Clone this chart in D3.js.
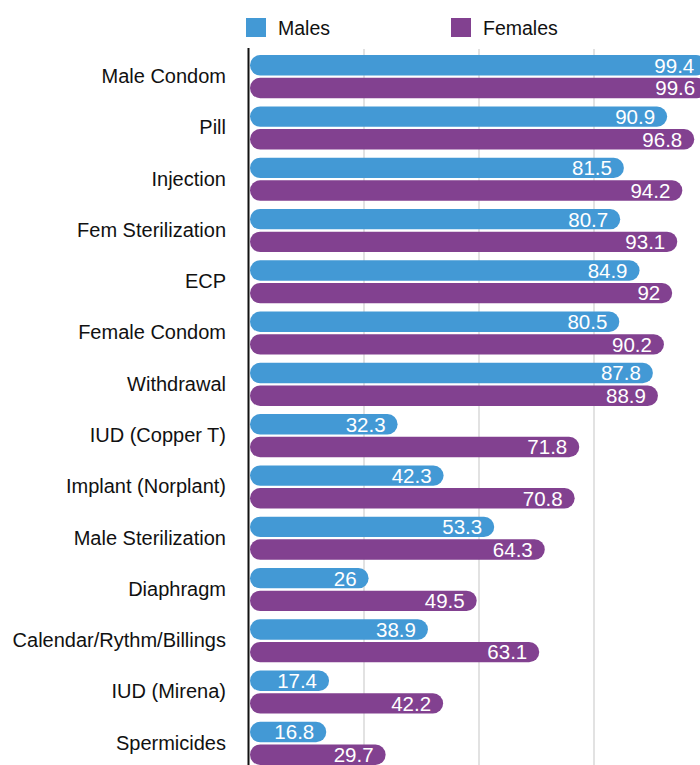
<!DOCTYPE html>
<html>
<head>
<meta charset="utf-8">
<script src="https://cdn.jsdelivr.net/npm/d3@7"></script>
<style>
  html, body { margin: 0; padding: 0; background: #fff; overflow: hidden; }
  svg { display: block; font-family: "Helvetica Neue", Helvetica, Arial, "Liberation Sans", sans-serif; }
</style>
</head>
<body>
<svg id="chart" width="700" height="765"></svg>
<script>
// Contraceptive method awareness (%), by sex
const categories = [
  "Male Condom", "Pill", "Injection", "Fem Sterilization", "ECP",
  "Female Condom", "Withdrawal", "IUD (Copper T)", "Implant (Norplant)",
  "Male Sterilization", "Diaphragm", "Calendar/Rythm/Billings",
  "IUD (Mirena)", "Spermicides"
];
const males   = [99.4, 90.9, 81.5, 80.7, 84.9, 80.5, 87.8, 32.3, 42.3, 53.3, 26, 38.9, 17.4, 16.8];
const females = [99.6, 96.8, 94.2, 93.1, 92, 90.2, 88.9, 71.8, 70.8, 64.3, 49.5, 63.1, 42.2, 29.7];
const seriesNames = ["Males", "Females"];
const gridTicks = [25, 50, 75, 100];

const colors = { Males: "#4399d5", Females: "#824190" };

const svg = d3.select("#chart");

const x = d3.scaleLinear().domain([0, 100]).range([249, 709]);
const y = d3.scaleBand().domain(categories).range([51, 769]).paddingInner(0.16).paddingOuter(0.08);
const ySub = d3.scaleBand().domain(seriesNames).range([0, y.bandwidth()]).paddingInner(0.1);

const rows = categories.map((c, i) => ({ category: c, Males: males[i], Females: females[i] }));

// vertical gridlines
svg.append("g").selectAll("line").data(gridTicks).join("line")
  .attr("x1", d => x(d)).attr("x2", d => x(d))
  .attr("y1", 49).attr("y2", 765)
  .attr("stroke", "#cfcfcf").attr("stroke-width", 1.2);

// bars
const groups = svg.append("g").selectAll("g").data(rows).join("g")
  .attr("transform", d => `translate(0,${y(d.category)})`);

groups.selectAll("rect").data(d => seriesNames.map(s => ({ s, v: d[s] }))).join("rect")
  .attr("x", x(0) + 1)
  .attr("y", d => ySub(d.s))
  .attr("width", d => x(d.v) - x(0) - 1)
  .attr("height", ySub.bandwidth())
  .attr("rx", ySub.bandwidth() / 2)
  .attr("fill", d => colors[d.s]);

groups.selectAll("text").data(d => seriesNames.map(s => ({ s, v: d[s] }))).join("text")
  .attr("x", d => x(d.v) - 12)
  .attr("y", d => ySub(d.s) + ySub.bandwidth() / 2)
  .attr("dy", "0.36em")
  .attr("text-anchor", "end")
  .attr("fill", "#fff")
  .attr("font-size", 20.5)
  .text(d => d.v);

// category axis
const yAxis = d3.axisLeft(y).tickSize(0).tickPadding(23);
const ax = svg.append("g").attr("transform", `translate(${x(0)},0)`).call(yAxis);
ax.select(".domain").remove();
ax.selectAll("text")
  .attr("font-size", 20)
  .attr("fill", "#111")
  .attr("font-family", "\"Helvetica Neue\", Helvetica, Arial, \"Liberation Sans\", sans-serif");

svg.append("line")
  .attr("x1", x(0) - 0.5).attr("x2", x(0) - 0.5)
  .attr("y1", 48).attr("y2", 765)
  .attr("stroke", "#111").attr("stroke-width", 2);

// legend
const legendX = { Males: 246, Females: 451 };
const legend = svg.append("g").selectAll("g").data(seriesNames).join("g")
  .attr("transform", d => `translate(${legendX[d]},18)`);
legend.append("rect").attr("width", 20).attr("height", 19).attr("fill", d => colors[d]);
legend.append("text")
  .attr("x", 32).attr("y", 10).attr("dy", "0.36em")
  .attr("font-size", 19.5).attr("fill", "#111")
  .text(d => d);
</script>
</body>
</html>
